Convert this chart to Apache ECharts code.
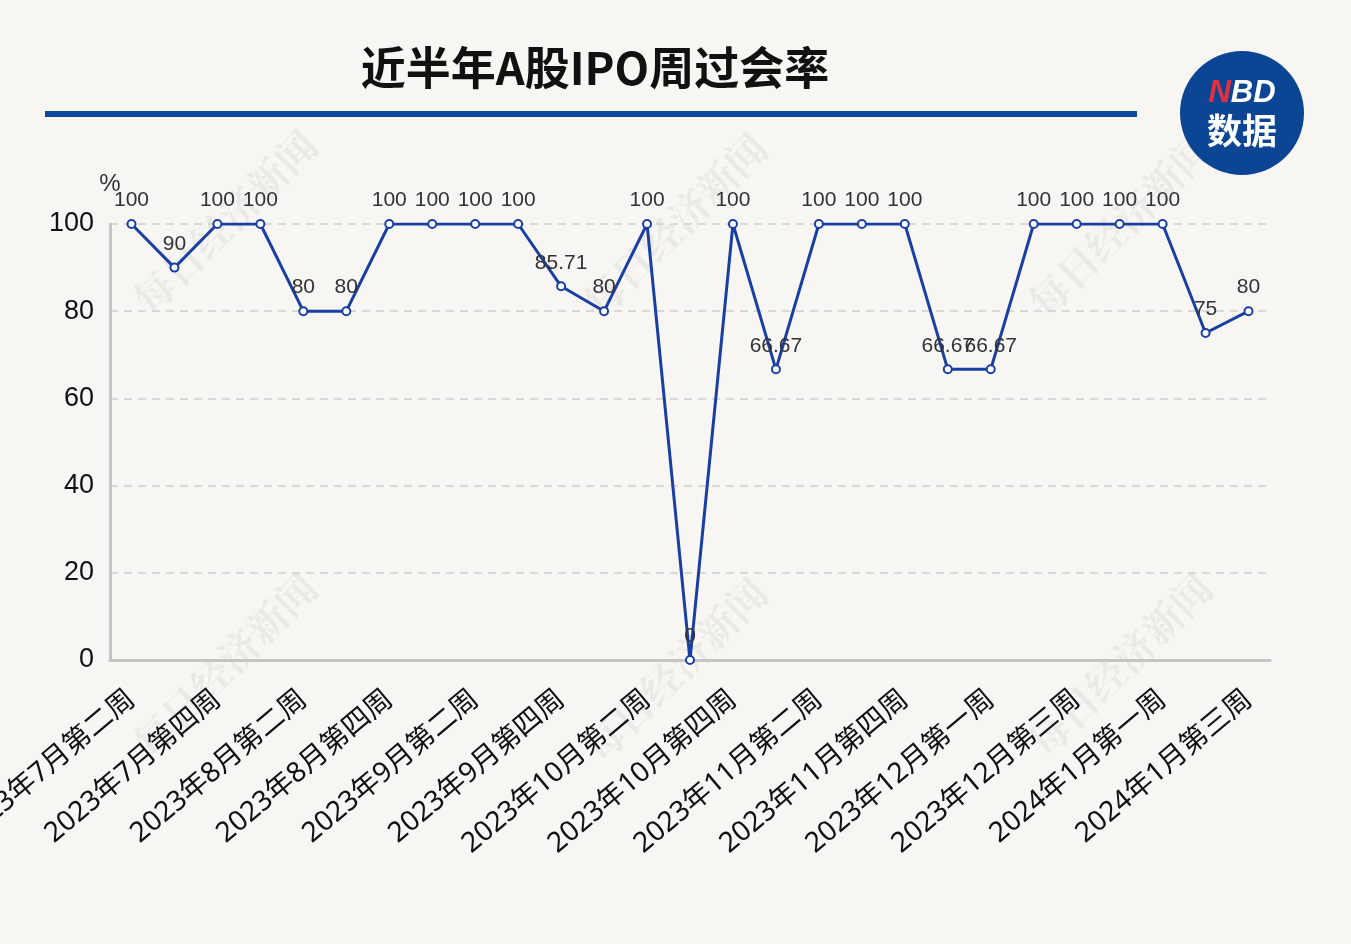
<!DOCTYPE html>
<html>
<head>
<meta charset="utf-8">
<script src="https://cdn.jsdelivr.net/npm/echarts@6/dist/echarts.min.js"></script>
<style>
html,body{margin:0;padding:0;background:#f8f6f2;}
#chart{width:1351px;height:944px;}
</style>
</head>
<body>
<div id="chart"></div>
<script>
const categories = [
  '2023年7月第二周','2023年7月第三周','2023年7月第四周','2023年8月第一周','2023年8月第二周','2023年8月第三周',
  '2023年8月第四周','2023年9月第一周','2023年9月第二周','2023年9月第三周','2023年9月第四周','2023年10月第一周',
  '2023年10月第二周','2023年10月第三周','2023年10月第四周','2023年11月第一周','2023年11月第二周','2023年11月第三周',
  '2023年11月第四周','2023年11月第五周','2023年12月第一周','2023年12月第二周','2023年12月第三周','2023年12月第四周',
  '2024年1月第一周','2024年1月第二周','2024年1月第三周'
];
const passRate = [100,90,100,100,80,80,100,100,100,100,85.71,80,100,0,100,66.67,100,100,100,66.67,66.67,100,100,100,100,75,80];
const yTicks = { min: 0, max: 100, interval: 20 };

const chart = echarts.init(document.getElementById('chart'));
const wmPos = [[225,222],[675,225],[1120,225],[225,665],[675,670],[1120,665]];
const watermarks = wmPos.map(p => ({
  type: 'text', x: p[0], y: p[1], rotation: Math.PI/4, z: 0,
  style: { text: '每日经济新闻', font: 'bold 40px "Noto Serif CJK SC", "Noto Sans CJK SC"', fill: 'rgba(0,0,0,0.05)', align: 'center', verticalAlign: 'middle' }
}));
chart.setOption({
  backgroundColor: '#f8f6f2',
  title: {
    text: '近半年A股IPO周过会率', left: 590, top: 40, textAlign: 'center',
    textStyle: { fontSize: 45, fontWeight: 'bold', color: '#111', fontFamily: '"Noto Sans CJK SC"' }
  },
  graphic: [
    ...watermarks,
    { type: 'rect', shape: { x: 45, y: 111, width: 1092, height: 6 }, style: { fill: '#0b4a9c' } },
    { type: 'circle', shape: { cx: 1242, cy: 113, r: 62 }, style: { fill: '#0b4593' } },
    { type: 'text', x: 1242, y: 93, style: { text: '{n|N}{b|BD}', align: 'center', verticalAlign: 'middle',
        rich: { n: { fill: '#e8303a', font: 'italic bold 31px "Liberation Sans"' }, b: { fill: '#fff', font: 'italic bold 31px "Liberation Sans"' } } } },
    { type: 'text', x: 1242, y: 131, style: { text: '数据', align: 'center', verticalAlign: 'middle', fill: '#fff', font: 'bold 35px "Noto Sans CJK SC"' } }
  ],
  grid: { left: 110, right: 81, top: 224, bottom: 284, containLabel: false, outerBoundsMode: 'none' },
  xAxis: {
    type: 'category', data: categories, boundaryGap: true,
    axisLine: { lineStyle: { color: '#c4c4c4', width: 3 } },
    axisTick: { show: false },
    axisLabel: { interval: 1, rotate: 40, fontSize: 28, color: '#111', margin: 36, fontFamily: '"Noto Sans", "Noto Sans CJK SC"' }
  },
  yAxis: {
    type: 'value', min: yTicks.min, max: yTicks.max, interval: yTicks.interval,
    name: '%', nameGap: 28, nameTextStyle: { fontSize: 24, color: '#333', align: 'center' },
    axisLine: { show: true, lineStyle: { color: '#c4c4c4', width: 3 } },
    axisTick: { show: false },
    axisLabel: { fontSize: 27, color: '#111', margin: 16 },
    splitLine: { lineStyle: { color: '#d0d0d0', type: [8, 6], width: 1.5 } }
  },
  series: [{
    type: 'line', data: passRate,
    symbol: 'emptyCircle', symbolSize: 8,
    lineStyle: { color: '#1a3fa3', width: 3 },
    itemStyle: { color: '#1a3fa3', borderWidth: 2 },
    label: { show: true, position: 'top', distance: 8, fontSize: 21, color: '#333' },
    labelLayout: { hideOverlap: false }
  }]
});
</script>
</body>
</html>
